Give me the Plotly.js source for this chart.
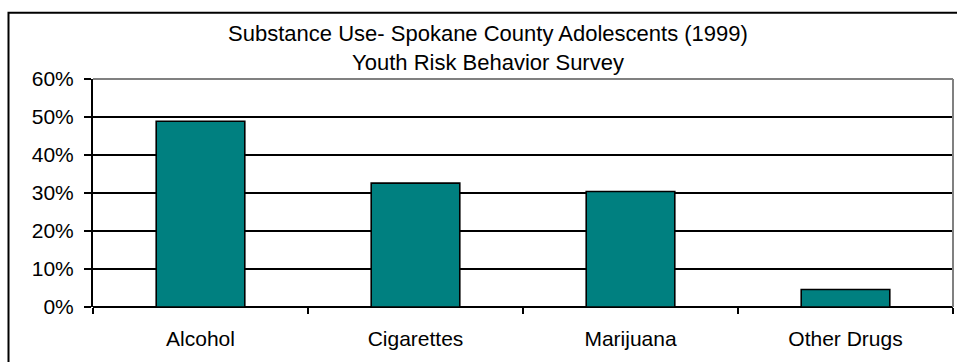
<!DOCTYPE html>
<html>
<head>
<meta charset="utf-8">
<script src="https://cdn.plot.ly/plotly-3.0.1.min.js"></script>
<style>
  html, body { margin: 0; padding: 0; background: #fff; }
  #chart { width: 957px; height: 362px; }
</style>
</head>
<body>
<div id="chart"></div>
<script>
// Substance use among Spokane County adolescents, 1999 YRBS
const substances = ["Alcohol", "Cigarettes", "Marijuana", "Other Drugs"];
const usageShare = [0.489, 0.326, 0.304, 0.046];
const yTickValues = [0, 0.1, 0.2, 0.3, 0.4, 0.5, 0.6];
const titleLines = ["Substance Use- Spokane County Adolescents (1999)", "Youth Risk Behavior Survey"];

const W = 957, H = 362;
const margin = { l: 93, r: 4, t: 79, b: 55, pad: 0 };
const plotW = W - margin.l - margin.r;
const plotH = H - margin.t - margin.b;
// convert a pixel position on the page into paper coordinates
const px = x => (x - margin.l) / plotW;
const py = y => (H - margin.b - y) / plotH;

const font = { family: "Arial, 'Liberation Sans', sans-serif", size: 21, color: "#000" };
const titleFont = Object.assign({}, font, { size: 22 });

const trace = {
  type: "bar",
  x: substances,
  y: usageShare,
  marker: { color: "#008080", line: { color: "#000", width: 1.6 } },
  hoverinfo: "x+y"
};

const layout = {
  width: W,
  height: H,
  margin: margin,
  paper_bgcolor: "#fff",
  plot_bgcolor: "#fff",
  font: font,
  showlegend: false,
  bargap: 0.588,
  title: {
    text: titleLines.join("<br>"),
    font: titleFont,
    xref: "container",
    x: 488 / W,
    xanchor: "center",
    yref: "container",
    y: 1 - 41 / H,
    yanchor: "top"
  },
  xaxis: {
    type: "category",
    tickson: "boundaries",
    ticks: "outside",
    ticklen: 6,
    tickwidth: 2,
    tickcolor: "#000",
    showgrid: false,
    showline: false,
    zeroline: false,
    tickfont: font,
    ticklabelstandoff: 17,
    fixedrange: true
  },
  yaxis: {
    range: [0, 0.6],
    tickvals: yTickValues,
    tickformat: ".0%",
    ticks: "outside",
    ticklen: 7,
    tickwidth: 2,
    tickcolor: "#000",
    showline: true,
    linecolor: "#000",
    linewidth: 2,
    showgrid: true,
    gridcolor: "#000",
    gridwidth: 2,
    zeroline: true,
    zerolinecolor: "#000",
    zerolinewidth: 2,
    tickfont: font,
    ticklabelstandoff: 6,
    fixedrange: true
  },
  shapes: [
    // plot-area frame: grey top and right edges
    { type: "line", xref: "paper", yref: "paper", x0: 0, x1: 1, y0: 1, y1: 1,
      line: { color: "#808080", width: 2 }, layer: "above" },
    { type: "line", xref: "paper", yref: "paper", x0: 1, x1: 1, y0: 0, y1: 1,
      line: { color: "#808080", width: 2 }, layer: "above" },
    // outer chart frame
    { type: "rect", xref: "paper", yref: "paper",
      x0: px(8.5), x1: px(W + 20), y0: py(H + 20), y1: py(12.7),
      line: { color: "#000", width: 2 }, fillcolor: "rgba(0,0,0,0)", layer: "above" }
  ]
};

Plotly.newPlot("chart", [trace], layout, { displayModeBar: false, staticPlot: true });
</script>
</body>
</html>
